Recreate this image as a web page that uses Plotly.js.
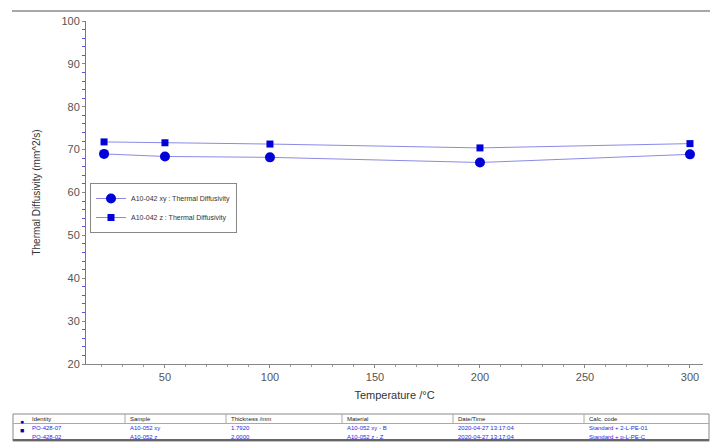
<!DOCTYPE html>
<html>
<head>
<meta charset="utf-8">
<script src="https://cdn.plot.ly/plotly-3.0.1.min.js"></script>
<style>html,body{margin:0;padding:0;background:#fff;}#chart{width:710px;height:442px;}</style>
</head>
<body>
<div id="chart"></div>
<script>
// ---- data ----
var temperatures = [21, 50, 100, 200, 300];
var diffXY = [69.0, 68.4, 68.2, 67.0, 68.9];
var diffZ = [71.8, 71.6, 71.3, 70.4, 71.4];
var seriesNames = ["A10-042 xy : Thermal Diffusivity", "A10-042 z : Thermal Diffusivity"];
var tableHeaders = ["Identity", "Sample", "Thickness /mm", "Material", "Date/Time", "Calc. code"];
var tableRow1 = ["PO-428-07", "A10-052 xy", "1.7920", "A10-052 xy - B", "2020-04-27 13:17:04", "Standard + 2-L-PE-01"];
var tableRow2 = ["PO-428-02", "A10-052 z", "2.0000", "A10-052 z - Z", "2020-04-27 13:17:04", "Standard + p-L-PE-C"];

// ---- layout helpers (pixel -> paper) ----
var L = 86, R = 7, T = 21, B = 78, W = 710, H = 442;
var pw = W - L - R, ph = H - T - B;
function px(x) { return (x - L) / pw; }
function py(y) { return (H - B - y) / ph; }

var lineCol = '#8a8ae6', markCol = '#0000d8';
var traces = [
  {x: temperatures, y: diffXY, name: seriesNames[0], mode: 'lines+markers', type: 'scatter',
   line: {color: lineCol, width: 1}, marker: {symbol: 'circle', size: 10, color: markCol}},
  {x: temperatures, y: diffZ, name: seriesNames[1], mode: 'lines+markers', type: 'scatter',
   line: {color: lineCol, width: 1}, marker: {symbol: 'square', size: 7, color: markCol}}
];

var colX = [30, 128, 229, 345, 456, 587];
var sepX = [125, 226, 342, 453, 584];
var shapes = [
  {type: 'line', xref: 'paper', yref: 'paper', x0: px(12), x1: px(710), y0: py(11), y1: py(11), line: {color: '#a8a8a8', width: 2}},
  {type: 'rect', xref: 'paper', yref: 'paper', x0: px(13), x1: px(709), y0: py(414), y1: py(441), line: {color: '#888', width: 1}},
  {type: 'line', xref: 'paper', yref: 'paper', x0: px(13), x1: px(709), y0: py(423.5), y1: py(423.5), line: {color: '#aaa', width: 1}},
  {type: 'line', xref: 'paper', yref: 'paper', x0: px(13), x1: px(709), y0: py(440), y1: py(440), line: {color: '#666', width: 2}}
];
sepX.forEach(function (s) {
  shapes.push({type: 'line', xref: 'paper', yref: 'paper', x0: px(s), x1: px(s), y0: py(414), y1: py(424), line: {color: '#aaa', width: 1}});
});

var annotations = [];
function addCell(text, x, y, color) {
  annotations.push({text: text, xref: 'paper', yref: 'paper', x: px(x), y: py(y), xanchor: 'left', yanchor: 'middle',
    showarrow: false, font: {family: 'Arial, Liberation Sans, sans-serif', size: 6, color: color}});
}
tableHeaders.forEach(function (t, i) { addCell(t, colX[i], 419, '#222'); });
tableRow1.forEach(function (t, i) { addCell(t, colX[i], 428.5, '#2a2ae0'); });
tableRow2.forEach(function (t, i) { addCell(t, colX[i], 436.5, '#2a2ae0'); });
annotations.push({text: '●', xref: 'paper', yref: 'paper', x: px(18), y: py(428.5), showarrow: false, font: {size: 7, color: '#0000aa'}});
annotations.push({text: '■', xref: 'paper', yref: 'paper', x: px(18), y: py(436.5), showarrow: false, font: {size: 7, color: '#0000aa'}});

var tickFont = {family: 'Arial, Liberation Sans, sans-serif', size: 11, color: '#555'};
var layout = {
  width: W, height: H,
  margin: {l: L, r: R, t: T, b: B, pad: 0},
  paper_bgcolor: '#fff', plot_bgcolor: '#fff',
  showlegend: true,
  legend: {x: px(90), y: py(183), xanchor: 'left', yanchor: 'top', bgcolor: '#fff',
    bordercolor: '#888', borderwidth: 1, font: {family: 'Arial, Liberation Sans, sans-serif', size: 7, color: '#333'},
    tracegroupgap: 0, itemwidth: 30},
  xaxis: {range: [12.4, 306.2], showgrid: false, zeroline: false, showline: true, linecolor: '#888', linewidth: 1,
    tickmode: 'array', tickvals: [50, 100, 150, 200, 250, 300], ticks: 'outside', ticklen: 3, tickcolor: '#888',
    minor: {dtick: 10, ticks: 'outside', ticklen: 2, tickcolor: '#999'},
    tickfont: tickFont,
    title: {text: 'Temperature /°C', font: {family: 'Arial, Liberation Sans, sans-serif', size: 11, color: '#333'}, standoff: 9}},
  yaxis: {range: [20, 100], showgrid: false, zeroline: false, showline: true, linecolor: '#6a6aee', linewidth: 1,
    dtick: 10, ticks: 'outside', ticklen: 3, tickcolor: '#888',
    minor: {dtick: 2, ticks: 'outside', ticklen: 3, tickcolor: '#5555dd'},
    tickfont: tickFont,
    title: {text: 'Thermal Diffusivity (mm^2/s)', font: {family: 'Arial, Liberation Sans, sans-serif', size: 10, color: '#333'}, standoff: 18}},
  shapes: shapes,
  annotations: annotations
};

Plotly.newPlot('chart', traces, layout, {displayModeBar: false, staticPlot: true});
</script>
</body>
</html>
